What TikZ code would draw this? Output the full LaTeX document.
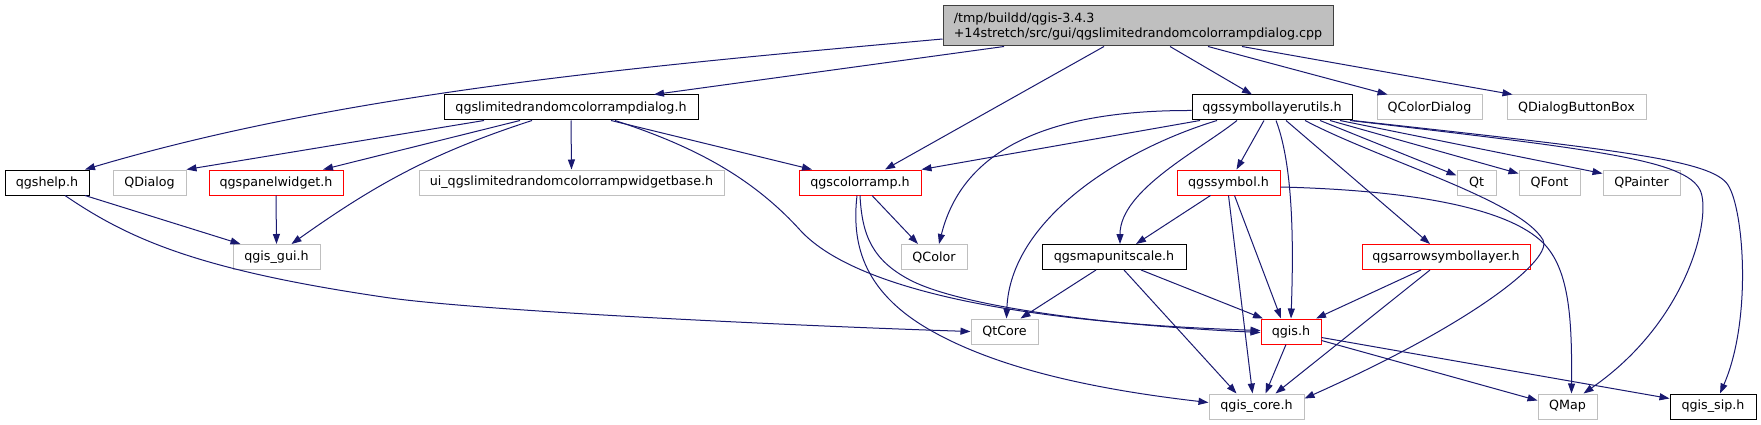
\documentclass[tikz,border=0pt]{standalone}
\usepackage{fontspec}
\setmainfont{DejaVu Sans}
\usetikzlibrary{arrows.meta}
\definecolor{edgec}{HTML}{191970}
\definecolor{grayb}{HTML}{BFBFBF}
\definecolor{darkb}{HTML}{404040}
\definecolor{redb}{HTML}{FF0000}
\tikzset{
  box/.style={draw, line width=1pt, minimum height=25pt, inner sep=0pt, anchor=center, font=\fontsize{12.7}{15}\selectfont},
  blk/.style={box, draw=black},
  gry/.style={box, draw=grayb},
  redbox/.style={box, draw=redb},
  dep/.style={draw=edgec, line width=1pt, -{Triangle[length=10pt,width=7pt]}},
}
\begin{document}
\begin{tikzpicture}[x=1pt,y=-1pt]
\useasboundingbox (0,0) rectangle (1761,425);
\fill[white] (0,0) rectangle (1761,425);
% row 0
\node[box, draw=darkb, fill=grayb, minimum width=390pt, minimum height=40pt, align=left] (main) at (1138,26) {/tmp/buildd/qgis-3.4.3\\+14stretch/src/gui/qgslimitedrandomcolorrampdialog.cpp};
% row 1
\node[blk, minimum width=254pt] (dialogh) at (571,107.5) {qgslimitedrandomcolorrampdialog.h};
\node[blk, minimum width=160pt] (symlayer) at (1272,107.5) {qgssymbollayerutils.h};
\node[gry, minimum width=105pt] (qcolordialog) at (1429.5,107.5) {QColorDialog};
\node[gry, minimum width=139pt] (qdbb) at (1576.5,107.5) {QDialogButtonBox};
% row 2
\node[blk, minimum width=84pt] (qgshelp) at (47,182.5) {qgshelp.h};
\node[gry, minimum width=73pt] (qdialog) at (149.5,182.5) {QDialog};
\node[redbox, minimum width=134pt] (panel) at (276,182.5) {qgspanelwidget.h};
\node[gry, minimum width=305pt] (ui) at (571.5,182.5) {ui\_qgslimitedrandomcolorrampwidgetbase.h};
\node[redbox, minimum width=122pt] (colorramp) at (860,182.5) {qgscolorramp.h};
\node[redbox, minimum width=103pt] (qgssymbol) at (1228.5,182.5) {qgssymbol.h};
\node[gry, minimum width=39pt] (qt) at (1476.5,182.5) {Qt};
\node[gry, minimum width=61pt] (qfont) at (1549.5,182.5) {QFont};
\node[gry, minimum width=77pt] (qpainter) at (1641.5,182.5) {QPainter};
% row 3
\node[gry, minimum width=87pt] (gui) at (276.5,257) {qgis\_gui.h};
\node[gry, minimum width=66pt] (qcolor) at (934,257) {QColor};
\node[blk, minimum width=144pt] (mapunit) at (1114,257) {qgsmapunitscale.h};
\node[redbox, minimum width=168pt] (arrow) at (1446,257) {qgsarrowsymbollayer.h};
% row 4
\node[gry, minimum width=67pt] (qtcore) at (1004.5,331.5) {QtCore};
\node[redbox, minimum width=60pt] (qgis) at (1291,331.5) {qgis.h};
% row 5
\node[gry, minimum width=95pt] (core) at (1256.5,406.5) {qgis\_core.h};
\node[gry, minimum width=59pt] (qmap) at (1567.5,406.5) {QMap};
\node[blk, minimum width=86pt] (sip) at (1713,406.5) {qgis\_sip.h};
% edges from main
\draw[dep] ([yshift=-13]main.west) .. controls (644,66) and (346,92) .. ([xshift=38]qgshelp.north);
\draw[dep] ([xshift=-134]main.south) -- ([xshift=83]dialogh.north);
\draw[dep] ([xshift=-34]main.south) -- ([xshift=25]colorramp.north);
\draw[dep] ([xshift=32]main.south) -- ([xshift=-20]symlayer.north);
\draw[dep] ([xshift=70]main.south) -- ([xshift=-42]qcolordialog.north);
\draw[dep] ([xshift=104]main.south) -- ([xshift=-64]qdbb.north);
% edges from dialog.h
\draw[dep] ([xshift=-87]dialogh.south) -- (qdialog.north east);
\draw[dep] ([xshift=-51]dialogh.south) -- ([xshift=47]panel.north);
\draw[dep] ([xshift=-39]dialogh.south) .. controls (432,153) and (376,184) .. ([xshift=15]gui.north);
\draw[dep] (dialogh.south) -- (ui.north);
\draw[dep] ([xshift=40]dialogh.south) -- ([xshift=-48]colorramp.north);
\draw[dep] ([xshift=44]dialogh.south) .. controls (690,145) and (750,175) .. (800,230) .. controls (850,285) and (1000,322) .. ([yshift=1]qgis.west);
% qgshelp
\draw[dep] ([xshift=38]qgshelp.south) -- ([xshift=-36]gui.north);
\draw[dep] ([xshift=18]qgshelp.south) .. controls (130,240) and (200,270) .. (383,297) .. controls (475,311) and (800,326) .. (qtcore.west);
% panel
\draw[dep] (panel.south) -- (gui.north);
% colorramp
\draw[dep] ([xshift=12]colorramp.south) -- ([xshift=-16]qcolor.north);
\draw[dep] (colorramp.south) .. controls (862,235) and (872,260) .. (910,280) .. controls (960,306) and (1100,325) .. ([yshift=-1]qgis.west);
\draw[dep] ([xshift=-3]colorramp.south) .. controls (852,240) and (860,290) .. (930,330) .. controls (1000,370) and (1100,390) .. ([yshift=4]core.west);
% symlayer
\draw[dep] ([xshift=-72]symlayer.south) -- (colorramp.north east);
\draw[dep] ([yshift=-3]symlayer.west) .. controls (1030,110) and (960,160) .. ([xshift=5]qcolor.north);
\draw[dep] ([xshift=-55]symlayer.south) .. controls (1120,150) and (1010,220) .. ([xshift=2]qtcore.north);
\draw[dep] ([xshift=-35]symlayer.south) .. controls (1200,150) and (1120,190) .. ([xshift=6]mapunit.north);
\draw[dep] ([xshift=-8]symlayer.south) -- ([xshift=8]qgssymbol.north);
\draw[dep] ([xshift=4]symlayer.south) .. controls (1295,170) and (1293,260) .. (qgis.north);
\draw[dep] ([xshift=14]symlayer.south) -- ([xshift=-16]arrow.north);
\draw[dep] ([xshift=33]symlayer.south) .. controls (1380,160) and (1520,200) .. (1543,240) .. controls (1553,258) and (1480,320) .. ([yshift=8]core.east);
\draw[dep] ([xshift=48]symlayer.south) -- ([yshift=7]qt.west);
\draw[dep] ([xshift=58]symlayer.south) -- ([yshift=9]qfont.west);
\draw[dep] ([xshift=68]symlayer.south) -- ([yshift=9]qpainter.west);
\draw[dep] ([xshift=78]symlayer.south) .. controls (1600,150) and (1685,160) .. (1700,190) .. controls (1712,214) and (1690,320) .. ([xshift=16]qmap.north);
\draw[dep] (symlayer.south east) .. controls (1620,150) and (1712,160) .. (1728,185) .. controls (1744,210) and (1752,320) .. ([xshift=7]sip.north);
% qgssymbol
\draw[dep] ([xshift=-18]qgssymbol.south) -- ([xshift=22]mapunit.north);
\draw[dep] ([xshift=6]qgssymbol.south) -- ([xshift=-10]qgis.north);
\draw[dep] (qgssymbol.south) -- ([xshift=-4]core.north);
\draw[dep] ([yshift=-4.5]qgssymbol.east) .. controls (1400,190) and (1500,205) .. (1540,240) .. controls (1570,266) and (1572,320) .. ([xshift=4]qmap.north);
% mapunit
\draw[dep] ([xshift=-18]mapunit.south) -- ([xshift=16]qtcore.north);
\draw[dep] ([xshift=27]mapunit.south) -- ([xshift=-28]qgis.north);
\draw[dep] ([xshift=10]mapunit.south) -- ([xshift=-20]core.north);
% arrow layer
\draw[dep] ([xshift=-25]arrow.south) -- ([xshift=25]qgis.north);
\draw[dep] ([xshift=-16]arrow.south) -- ([xshift=19]core.north);
% qgis.h
\draw[dep] ([xshift=-5]qgis.south) -- ([xshift=9]core.north);
\draw[dep] ([yshift=-9]qgis.east) -- ([yshift=6]qmap.west);
\draw[dep] ([yshift=-6]qgis.east) -- ([yshift=8]sip.west);
\end{tikzpicture}
\end{document}
